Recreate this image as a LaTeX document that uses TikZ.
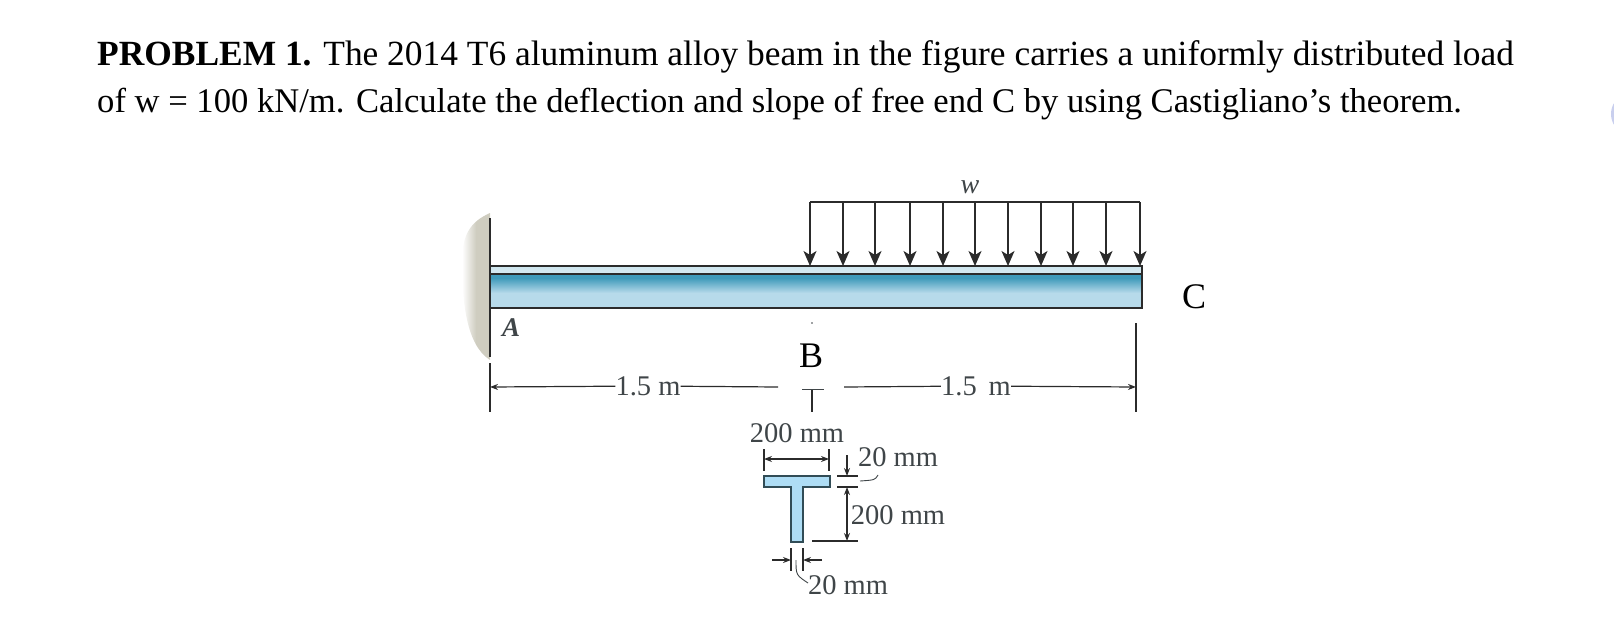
\documentclass[tikz,border=0pt]{standalone}
\usepackage{fontspec}
\setmainfont{Liberation Serif}
\usepackage{tikz}
\usetikzlibrary{arrows.meta,calc}
\definecolor{inkc}{HTML}{2B2B2B}
\definecolor{dimc}{HTML}{3F4548}
\definecolor{wallc}{HTML}{CFCDC0}
\definecolor{beamdark}{HTML}{3F9ABA}
\definecolor{beamlight}{HTML}{B7DAEA}
\definecolor{beamtop}{HTML}{CDE5EE}
\definecolor{secc}{HTML}{AEDDF5}
\definecolor{blobc}{HTML}{C9CFEE}
\tikzset{txt/.style={inner sep=0pt,anchor=base west},
lab/.style={inner sep=0pt,text=dimc,font=\fontsize{28.5}{32}\selectfont},
mainlab/.style={inner sep=0pt,font=\fontsize{36}{40}\selectfont},
load/.style={line width=1.3pt,draw=inkc,-{Stealth[length=15pt,width=13pt,inset=4pt]}},
dimen/.style={line width=1.2pt,draw=inkc,-{Stealth[length=8pt,width=6pt]}},
dimtwo/.style={line width=1.2pt,draw=inkc,{Stealth[length=8pt,width=6pt]}-{Stealth[length=8pt,width=6pt]}},
tick/.style={line width=1.3pt,draw=inkc}}
\begin{document}
\begin{tikzpicture}[x=1pt,y=-1pt]
  \useasboundingbox (0,0) rectangle (1614,621);
  % text
  \node[txt,font=\fontsize{35.4}{40}\selectfont] (line1) at (97,65) {\textbf{PROBLEM 1.} The 2014 T6 aluminum alloy beam in the figure carries a uniformly distributed load};
  \node[txt,font=\fontsize{34.6}{40}\selectfont] (line2) at (97,112) {of w = 100 kN/m. Calculate the deflection and slope of free end C by using Castigliano’s theorem.};
  \fill[blobc] (1624,114) ellipse (13 and 17);
  % wall
  \shade[left color=white,right color=wallc,middle color=wallc] (490,213) .. controls (470,222) and (462,235) .. (462,262)
  .. controls (462,300) and (466,345) .. (490,360) -- cycle;
  % beam
  \shade[top color=beamtop,bottom color=beamtop!80!white] (490,266) rectangle (1142,274);
  \fill[beamdark] (490,274) rectangle (1142,278);
  \shade[top color=beamdark,bottom color=beamlight] (490,278) rectangle (1142,293);
  \fill[beamlight] (490,293) rectangle (1142,308);
  \coordinate (p0) at (490,266);
  \coordinate (p1) at (1142,266);
  \coordinate (p2) at (490,274);
  \coordinate (p3) at (1142,274);
  \coordinate (p4) at (490,308);
  \coordinate (p5) at (1142,308);
  \draw[tick] (p0) -- (p1) -- (p5) -- (p4) (p2) -- (p3);
  \coordinate (w0) at (490,218);
  \coordinate (w1) at (490,357);
  \draw[tick,line width=1.5pt] (w0) -- (w1);
  % load
  \node[lab,font=\itshape\fontsize{28}{30}\selectfont] (w) at (970,187) {w};
  \coordinate (t0) at (810,202);
  \coordinate (t1) at (843,202);
  \coordinate (t2) at (875,202);
  \coordinate (t3) at (910,202);
  \coordinate (t4) at (943,202);
  \coordinate (t5) at (975,202);
  \coordinate (t6) at (1008,202);
  \coordinate (t7) at (1041,202);
  \coordinate (t8) at (1073,202);
  \coordinate (t9) at (1106,202);
  \coordinate (t10) at (1140,202);
  \coordinate (h0) at (810,266);
  \coordinate (h1) at (843,266);
  \coordinate (h2) at (875,266);
  \coordinate (h3) at (910,266);
  \coordinate (h4) at (943,266);
  \coordinate (h5) at (975,266);
  \coordinate (h6) at (1008,266);
  \coordinate (h7) at (1041,266);
  \coordinate (h8) at (1073,266);
  \coordinate (h9) at (1106,266);
  \coordinate (h10) at (1140,266);
  \draw[tick] (t0) -- (t10);
  \draw (t0) edge[load] (h0) (t1) edge[load] (h1) (t2) edge[load] (h2) (t3) edge[load] (h3)
  (t4) edge[load] (h4) (t5) edge[load] (h5) (t6) edge[load] (h6) (t7) edge[load] (h7)
  (t8) edge[load] (h8) (t9) edge[load] (h9) (t10) edge[load] (h10);
  % labels
  \node[inner sep=0pt,text=dimc,font=\bfseries\itshape\fontsize{27}{30}\selectfont] (A) at (511,328) {A};
  \node[mainlab] (B) at (811,356) {B};
  \node[mainlab] (C) at (1194,297) {C};
  \fill[dimc] (812,323) circle (.8);
  % span dimensions
  \coordinate (a0) at (490,363);
  \coordinate (a1) at (490,412);
  \coordinate (a2) at (490,387);
  \coordinate (a3) at (778,387);
  \coordinate (c0) at (1136,323);
  \coordinate (c1) at (1136,412);
  \coordinate (c2) at (1136,387);
  \coordinate (c3) at (844,387);
  \coordinate (b0) at (812,389);
  \coordinate (b1) at (812,412);
  \coordinate (b2) at (802,389);
  \coordinate (b3) at (824,389);
  \node[lab] (d1) at (648,386) {1.5 m};
  \node[lab] (d2) at (976,386) {1.5\, m};
  \draw[tick] (a0) -- (a1) (c0) -- (c1) (b0) -- (b1);
  \draw[tick,line width=.6pt,draw=dimc] (b2) -- (b3);
  \draw[dimen] (d1) -- (a2);
  \draw[tick,line width=1.2pt] (d1) -- (a3);
  \draw[dimen] (d2) -- (c2);
  \draw[tick,line width=1.2pt] (d2) -- (c3);
  % section
  \draw[line width=1.5pt,draw=inkc!70!beamdark,fill=secc] (764,476) -- (830,476) -- (830,487) -- (803,487)
  -- (803,542) -- (791,542) -- (791,487) -- (764,487) -- cycle;
  \node[lab] (s1) at (797,433) {200 mm};
  \node[lab] (s2) at (898,457) {20 mm};
  \node[lab] (s3) at (898,515) {200 mm};
  \node[lab] (s4) at (848,585) {20 mm};
  % flange width
  \coordinate (f0) at (764,449);
  \coordinate (f1) at (764,471);
  \coordinate (f2) at (829,449);
  \coordinate (f3) at (829,471);
  \coordinate (f4) at (764,459);
  \coordinate (f5) at (829,459);
  \draw[tick] (f0) -- (f1) (f2) -- (f3);
  \draw[dimtwo] (f4) -- (f5);
  % depth
  \coordinate (r0) at (837,476);
  \coordinate (r1) at (858,476);
  \coordinate (r2) at (837,487);
  \coordinate (r3) at (858,487);
  \coordinate (r4) at (812,541);
  \coordinate (r5) at (858,541);
  \coordinate (r6) at (847,455);
  \coordinate (r7) at (847,476);
  \coordinate (r8) at (847,487);
  \coordinate (r9) at (847,541);
  \coordinate (r10) at (878,475);
  \coordinate (r11) at (860,481);
  \draw[tick] (r0) -- (r1) (r2) -- (r3) (r4) -- (r5);
  \draw[dimen] (r6) -- (r7);
  \draw[dimtwo] (r8) -- (r9);
  \draw[tick,line width=.9pt,draw=dimc] (r10) .. controls (875,480) .. (r11);
  % web thickness
  \coordinate (u0) at (791,548);
  \coordinate (u1) at (791,571);
  \coordinate (u2) at (803,548);
  \coordinate (u3) at (803,571);
  \coordinate (u4) at (772,560);
  \coordinate (u5) at (791,560);
  \coordinate (u6) at (822,560);
  \coordinate (u7) at (803,560);
  \coordinate (u8) at (796,560);
  \coordinate (u9) at (808,583);
  \draw[tick] (u0) -- (u1) (u2) -- (u3);
  \draw[dimen] (u4) -- (u5);
  \draw[dimen] (u6) -- (u7);
  \draw[tick,line width=.9pt,draw=dimc] (u8) .. controls (796,575) .. (u9);
\end{tikzpicture}
\end{document}
